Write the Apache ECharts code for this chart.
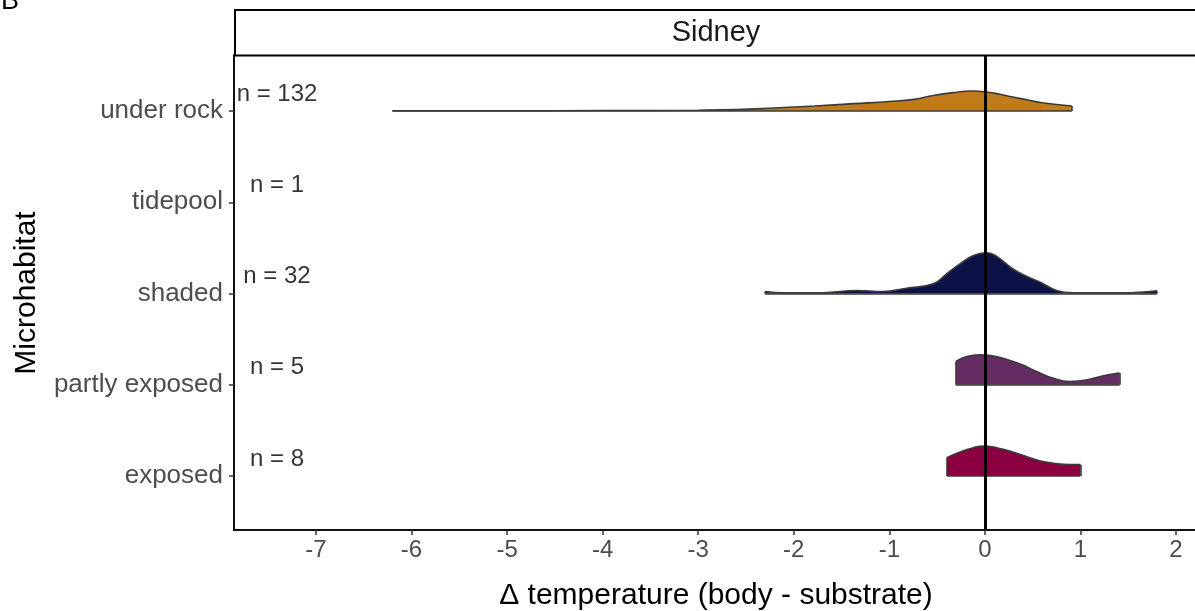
<!DOCTYPE html>
<html>
<head>
<meta charset="utf-8">
<script src="https://cdn.jsdelivr.net/npm/echarts@6/dist/echarts.min.js"></script>
<style>
html,body{margin:0;padding:0;background:#fff;}
#chart{width:1195px;height:611px;}
</style>
</head>
<body>
<div id="chart"></div>
<script>
// ---- data ----
const categories = ['exposed', 'partly exposed', 'shaded', 'tidepool', 'under rock'];
const counts = [8, 5, 32, 1, 132];
const xTicks = [-7, -6, -5, -4, -3, -2, -1, 0, 1, 2];
const panelTitle = 'Sidney';

// density curves (x = delta temperature, h = ridge height in y units)
const underRockX = [-6.2, -5, -4, -3, -2.6, -2.2, -1.78, -1.37, -1.0, -0.74, -0.54, -0.33, -0.15, 0, 0.16, 0.29, 0.45, 0.58, 0.75, 0.91];
const underRockH = [0.003, 0.003, 0.005, 0.009, 0.015, 0.033, 0.055, 0.081, 0.104, 0.128, 0.17, 0.202, 0.219, 0.212, 0.183, 0.153, 0.121, 0.093, 0.071, 0.055];

const shadedX = [-2.3, -2.11, -1.69, -1.34, -1.07, -0.82, -0.54, -0.4, -0.26, -0.12, 0.02, 0.12, 0.29, 0.44, 0.58, 0.75, 0.92, 1.44, 1.8];
const shadedH = [0.022, 0.008, 0.008, 0.033, 0.022, 0.058, 0.106, 0.216, 0.325, 0.416, 0.446, 0.409, 0.271, 0.186, 0.124, 0.033, 0.008, 0.008, 0.03];

const partlyX = [-0.303, -0.19, -0.05, 0.12, 0.37, 0.54, 0.71, 0.89, 1.06, 1.24, 1.41];
const partlyH = [0.255, 0.31, 0.329, 0.31, 0.227, 0.146, 0.073, 0.036, 0.052, 0.099, 0.128];

const exposedX = [-0.398, -0.26, -0.12, -0.01, 0.12, 0.29, 0.47, 0.65, 0.82, 1.0];
const exposedH = [0.2, 0.263, 0.31, 0.329, 0.31, 0.263, 0.2, 0.15, 0.128, 0.124];

const ridges = [
  { cat: 'under rock', xs: underRockX, hs: underRockH, color: '#C27B1B' },
  { cat: 'shaded', xs: shadedX, hs: shadedH, color: '#0D1246' },
  { cat: 'partly exposed', xs: partlyX, hs: partlyH, color: '#652C62' },
  { cat: 'exposed', xs: exposedX, hs: exposedH, color: '#8B003F' }
];

// ---- chart ----
const chart = echarts.init(document.getElementById('chart'), null, { renderer: 'canvas' });
const FONT = '"Liberation Sans", Arial, sans-serif';
const outline = '#3a3a3a';

const series = ridges.map(r => {
  const base = categories.indexOf(r.cat) + 1;
  const n = r.xs.length;
  return {
    type: 'line',
    data: r.xs.map((x, i) => [x, base + r.hs[i]]),
    smooth: 0.45,
    symbol: 'none',
    showSymbol: false,
    silent: true,
    z: 2,
    lineStyle: { color: outline, width: 1.6 },
    areaStyle: { color: r.color, opacity: 1, origin: base },
    markLine: {
      silent: true,
      symbol: 'none',
      label: { show: false },
      lineStyle: { color: outline, width: 1.6, type: 'solid' },
      data: [
        [{ coord: [r.xs[0], base] }, { coord: [r.xs[0], base + r.hs[0]] }],
        [{ coord: [r.xs[0], base] }, { coord: [r.xs[n - 1], base] }],
        [{ coord: [r.xs[n - 1], base] }, { coord: [r.xs[n - 1], base + r.hs[n - 1]] }]
      ]
    }
  };
});

// n labels + zero reference line
series.push({
  type: 'scatter',
  symbolSize: 0,
  silent: true,
  z: 5,
  data: categories.map((c, i) => [-7.408, i + 1 + 0.186, counts[i]]),
  label: {
    show: true,
    position: 'inside',
    formatter: p => 'n = ' + p.value[2],
    color: '#000',
    fontSize: 24,
    fontFamily: FONT
  },
  markLine: {
    silent: true,
    symbol: 'none',
    label: { show: false },
    lineStyle: { color: '#000', width: 3, type: 'solid' },
    data: [{ xAxis: 0 }]
  }
});

chart.setOption({
  backgroundColor: '#fff',
  animation: false,
  grid: { left: 234, right: 0, top: 55, bottom: 81, containLabel: false },
  xAxis: {
    type: 'value',
    min: -7.858,
    max: 2.199,
    splitLine: { show: false },
    axisLine: { show: true, onZero: false, lineStyle: { color: '#111', width: 2 } },
    axisTick: { show: true, length: 5, customValues: xTicks, lineStyle: { color: '#333', width: 1.5 } },
    axisLabel: {
      customValues: xTicks,
      formatter: v => String(v),
      color: '#4d4d4d',
      fontSize: 24,
      fontFamily: FONT,
      margin: 8
    }
  },
  yAxis: {
    type: 'value',
    min: 0.408,
    max: 5.614,
    splitLine: { show: false },
    axisLine: { show: true, onZero: false, lineStyle: { color: '#111', width: 2 } },
    axisTick: { show: true, length: 5, customValues: [1, 2, 3, 4, 5], lineStyle: { color: '#333', width: 1.5 } },
    axisLabel: {
      customValues: [1, 2, 3, 4, 5],
      formatter: v => categories[Math.round(v) - 1],
      color: '#4d4d4d',
      fontSize: 26,
      fontFamily: FONT,
      margin: 11
    }
  },
  series: series,
  graphic: [
    {
      type: 'rect', z: 100,
      shape: { x: 235, y: 10, width: 1000, height: 45.5 },
      style: { fill: '#fff', stroke: '#000', lineWidth: 2 }
    },
    {
      type: 'text', z: 101, x: 716, y: 33,
      style: { text: panelTitle, font: '29px ' + FONT, fill: '#1a1a1a', textAlign: 'center', textVerticalAlign: 'middle' }
    },
    {
      type: 'text', z: 101, x: 1, y: 15,
      style: { text: 'B', font: '27px ' + FONT, fill: '#000', textAlign: 'left', textVerticalAlign: 'bottom' }
    },
    {
      type: 'text', z: 101, x: 716, y: 596,
      style: { text: 'Δ temperature (body - substrate)', font: '30px ' + FONT, fill: '#000', textAlign: 'center', textVerticalAlign: 'middle' }
    },
    {
      type: 'text', z: 101, x: 27, y: 293, rotation: Math.PI / 2,
      style: { text: 'Microhabitat', font: '30px ' + FONT, fill: '#000', textAlign: 'center', textVerticalAlign: 'middle' }
    }
  ]
});
</script>
</body>
</html>
